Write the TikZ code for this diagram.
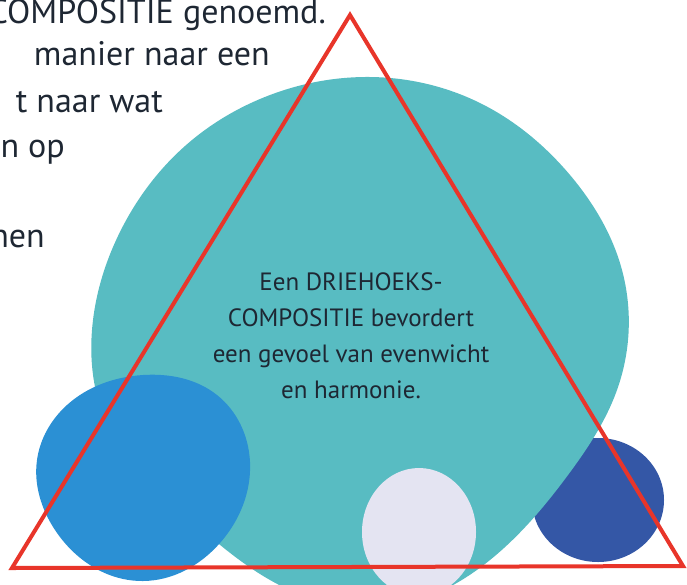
\documentclass[tikz,border=0pt]{standalone}
\usepackage{fontspec}
\setmainfont{PT Sans}
\usetikzlibrary{hobby}
\definecolor{blobteal}{HTML}{58BCC2}
\definecolor{blobblue}{HTML}{2B90D4}
\definecolor{blobnavy}{HTML}{3457A6}
\definecolor{blobpale}{HTML}{E4E4F2}
\definecolor{trired}{HTML}{E8352A}
\definecolor{inkdark}{HTML}{1E2733}
\begin{document}
\begin{tikzpicture}[x=1pt,y=-1pt,
    sidetxt/.style={text=inkdark,inner sep=0pt,anchor=base east,font=\fontsize{34}{44}\selectfont},
    midtxt/.style={text=inkdark,inner sep=0pt,anchor=base,font=\fontsize{25}{36}\selectfont},
    triline/.style={draw=trired,line width=4pt,line join=miter}]
    
    \useasboundingbox (0,0) rectangle (687,584);
    
    \fill[blobnavy] (598,500) ellipse [x radius=66, y radius=62];
    \fill[blobteal,use Hobby shortcut,closed=true] (370,77) .. (480,103) .. (570,175) .. (622,270)
    .. (617,390) .. (568,475) .. (490,560) .. (380,608) .. (270,580) .. (180,510) .. (110,430)
    .. (92,330) .. (118,236) .. (185,146) .. (270,95);
    \fill[blobblue,use Hobby shortcut,closed=true] (143,375) .. (217,395) .. (250,462)
    .. (220,543) .. (143,581) .. (55,530) .. (37,460) .. (67,405);
    \fill[blobpale] (419,532) ellipse [x radius=57, y radius=64];
    
    \foreach \t/\x/\y [count=\i] in {COMPOSITIE genoemd./326/23, manier naar een/270/65,
    t naar wat/163/112, n op/65/157, nen/45/247}
    \node[sidetxt] (side\i) at (\x,\y) {\t};
    
    \foreach \t [count=\i] in {Een DRIEHOEKS-, COMPOSITIE bevordert, een gevoel van evenwicht, en harmonie.}
    \node[midtxt] (mid\i) at (351,254+36*\i) {\t};
    
    \coordinate (apex) at (350,15);
    \coordinate (leftfoot) at (12,568);
    \coordinate (rightfoot) at (683,566);
    \draw[triline] (apex) -- (rightfoot) -- (leftfoot) -- cycle;
   
\end{tikzpicture}
\end{document}
